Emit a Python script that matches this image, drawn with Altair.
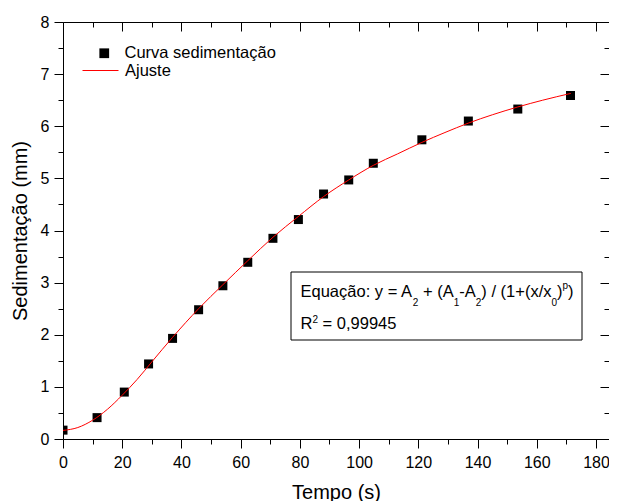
import altair as alt
import pandas as pd

# measured points
tempo = [0, 11.5, 20.7, 28.9, 37.0, 45.8, 54.0, 62.4, 70.9, 79.5, 88.0, 96.5, 104.8, 121.2, 136.9, 153.6, 171.4]
sedimentacao = [0.17, 0.41, 0.90, 1.44, 1.93, 2.48, 2.94, 3.39, 3.85, 4.21, 4.70, 4.97, 5.29, 5.74, 6.10, 6.33, 6.59]

# fitted curve
ajuste_tempo = [0, 5, 10, 15, 20, 25, 30, 37, 45.8, 54, 62.4, 70.9, 79.5, 88, 96.5, 104.8, 113, 121.2, 129, 136.9, 145, 153.6, 162, 171.5]
ajuste_sed = [0.165, 0.22, 0.36, 0.57, 0.84, 1.14, 1.48, 1.95, 2.50, 2.96, 3.42, 3.87, 4.27, 4.65, 4.97, 5.25, 5.47, 5.69, 5.88, 6.06, 6.22, 6.37, 6.50, 6.63]

x_major = [0, 20, 40, 60, 80, 100, 120, 140, 160, 180]
x_minor = [10, 30, 50, 70, 90, 110, 130, 150, 170]
y_major = [0, 1, 2, 3, 4, 5, 6, 7, 8]
y_minor = [0.5, 1.5, 2.5, 3.5, 4.5, 5.5, 6.5, 7.5]

serie_pontos = "Curva sedimentação"
serie_ajuste = "Ajuste"
titulo_x = "Tempo (s)"
titulo_y = "Sedimentação (mm)"
# equation pieces: (text, kind) -- kind n = normal, sub = subscript, sup = superscript
equacao = [("Equação: y = A", "n"), ("2", "sub"), (" + (A", "n"), ("1", "sub"), ("-A", "n"),
           ("2", "sub"), (") / (1+(x/x", "n"), ("0", "sub"), (")", "n"), ("p", "sup"), (")", "n")]
r2 = [("R", "n"), ("2", "sup2"), (" = 0,99945", "n")]

FONT = "Liberation Sans"
F_MAIN = 16.5
F_SMALL = 10

# Arial / Liberation Sans advance widths (1/1000 em)
W = {"E": 667, "q": 556, "u": 556, "a": 556, "ç": 500, "ã": 556, "o": 556, ":": 278,
     " ": 278, "y": 500, "=": 584, "A": 667, "+": 584, "(": 333, ")": 333, "-": 333,
     "/": 278, "x": 500, "p": 556, "R": 722, ",": 278}
for d in "0123456789":
    W[d] = 556


def text_width(s, size):
    return sum(W[c] for c in s) * size / 1000


SHIFT = {"n": 0, "sub": 9, "sup": -8.5, "sup2": -6}


def layout(pieces, x0, y0):
    normal, small = [], []
    x = x0
    for txt, kind in pieces:
        size = F_MAIN if kind == "n" else F_SMALL
        lead = len(txt) - len(txt.lstrip(" "))
        row = {"txt": txt.strip(), "px": x + text_width(" " * lead, size), "py": y0 + SHIFT[kind]}
        (normal if kind == "n" else small).append(row)
        x += text_width(txt, size)
    return normal, small


n1, s1 = layout(equacao, 237.5, 275)
n2, s2 = layout(r2, 237.5, 306.5)
txt_normal = pd.DataFrame(n1 + n2)
txt_small = pd.DataFrame(s1 + s2)

pontos = pd.DataFrame({"t": tempo, "s": sedimentacao, "serie": serie_pontos})
ajuste = pd.DataFrame({"t": ajuste_tempo, "s": ajuste_sed, "serie": serie_ajuste})

xs = alt.Scale(domain=[0, 184.4], nice=False, zero=False)
ys = alt.Scale(domain=[0, 8], nice=False, zero=False)


def tick_axis(orient, values, size, offset=0):
    kw = dict(orient=orient, values=values, tickSize=size, labels=False,
              domain=False, grid=False, title=None)
    if offset:
        kw["offset"] = offset
    return alt.Axis(**kw)


l_pts = alt.Chart(pontos).mark_square(size=81, opacity=1, filled=True, clip=True).encode(
    x=alt.X("t:Q", scale=xs, axis=alt.Axis(orient="bottom", values=x_major, tickSize=9,
                                           labelPadding=6, labelFlush=False,
                                           title=titulo_x, titlePadding=12)),
    y=alt.Y("s:Q", scale=ys, axis=alt.Axis(orient="left", values=y_major, tickSize=9,
                                           labelPadding=5, title=titulo_y, titlePadding=10)),
    color=alt.Color("serie:N", scale=alt.Scale(domain=[serie_pontos], range=["black"]),
                    legend=alt.Legend(orient="none", legendX=33, legendY=23, title=None,
                                      symbolType="square", symbolSize=95, labelOffset=12,
                                      padding=0)),
)

l_line = alt.Chart(ajuste).mark_line(strokeWidth=1, interpolate="monotone").encode(
    x=alt.X("t:Q", scale=xs, axis=tick_axis("bottom", x_minor, 5)),
    y=alt.Y("s:Q", scale=ys, axis=tick_axis("left", y_minor, 5)),
    color=alt.Color("serie:N", scale=alt.Scale(domain=[serie_ajuste], range=["#ff0000"]),
                    legend=alt.Legend(orient="none", legendX=19, legendY=30, title=None,
                                      symbolType="stroke", symbolSize=1296,
                                      symbolStrokeWidth=1, labelOffset=6, padding=0)),
)

l_top = alt.Chart(pontos).mark_point(opacity=0).encode(
    x=alt.X("t:Q", scale=xs, axis=tick_axis("top", x_major, 9, -9)),
    y=alt.Y("s:Q", scale=ys, axis=tick_axis("right", y_major, 9, -9)),
)
l_top_minor = alt.Chart(pontos).mark_point(opacity=0).encode(
    x=alt.X("t:Q", scale=xs, axis=tick_axis("top", x_minor, 5, -5)),
    y=alt.Y("s:Q", scale=ys, axis=tick_axis("right", y_minor, 5, -5)),
)

caixa = alt.Chart(pd.DataFrame({"k": [1]})).mark_rect(
    fill="white", stroke="black", strokeWidth=1
).encode(x=alt.value(228), x2=alt.value(519), y=alt.value(250), y2=alt.value(318))

t_normal = alt.Chart(txt_normal).mark_text(
    align="left", baseline="alphabetic", font=FONT, fontSize=F_MAIN, color="black"
).encode(x=alt.X("px:Q", scale=None), y=alt.Y("py:Q", scale=None), text="txt:N")

t_small = alt.Chart(txt_small).mark_text(
    align="left", baseline="alphabetic", font=FONT, fontSize=F_SMALL, color="black"
).encode(x=alt.X("px:Q", scale=None), y=alt.Y("py:Q", scale=None), text="txt:N")

chart = alt.layer(l_top, l_top_minor, l_pts, l_line, caixa, t_normal, t_small).resolve_scale(
    color="independent"
).resolve_axis(
    x="independent", y="independent"
).properties(
    width=546, height=417,
    autosize=alt.AutoSizeParams(type="none"),
    padding={"left": 55, "top": 14, "right": 0, "bottom": 70},
).configure_axis(
    labelFont=FONT, labelFontSize=16, labelColor="black",
    titleFont=FONT, titleFontSize=20, titleFontWeight="normal", titleColor="black",
    tickColor="black", tickWidth=1, grid=False, domain=False,
).configure_legend(
    labelFont=FONT, labelFontSize=16.5, labelColor="black",
).configure_view(stroke="black", strokeWidth=1)

chart.save("out.html", embed_options={"renderer": "svg", "actions": False})
